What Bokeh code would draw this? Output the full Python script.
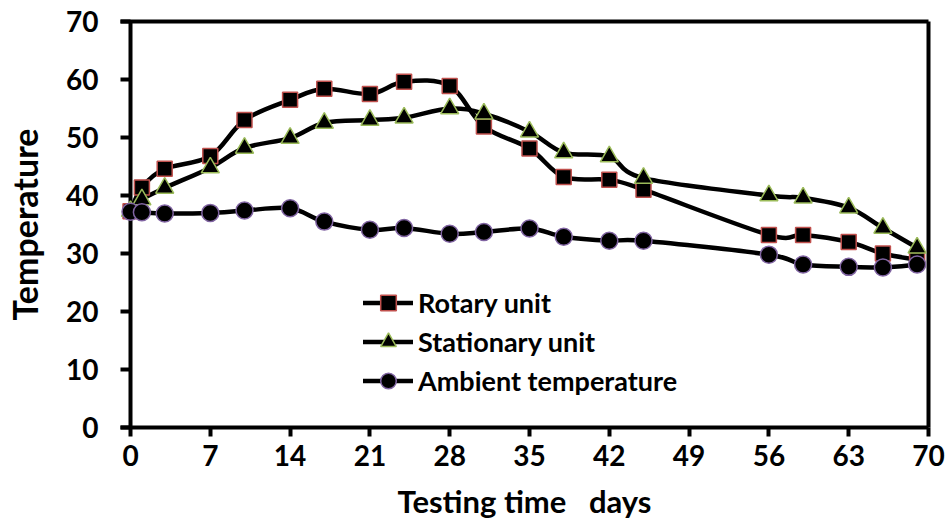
from bokeh.plotting import figure
from bokeh.models import (Range1d, FixedTicker, Legend, LegendItem, ColumnDataSource,
                          LinearAxis, Span)
from bokeh.embed import file_html
from bokeh.resources import INLINE

days = [0, 1, 3, 7, 10, 14, 17, 21, 24, 28, 31, 35, 38, 42, 45, 56, 59, 63, 66, 69]
rotary = [37.3, 41.4, 44.6, 46.8, 53.0, 56.5, 58.4, 57.5, 59.6, 58.9, 51.9, 48.1, 43.2, 42.7, 41.0, 33.2, 33.2, 32.0, 30.0, 28.9]
stationary = [37.3, 39.3, 41.3, 44.8, 48.2, 49.9, 52.5, 53.0, 53.4, 55.0, 54.1, 51.0, 47.4, 46.7, 43.0, 40.0, 39.6, 37.9, 34.4, 31.0]
ambient = [37.2, 37.1, 36.9, 37.0, 37.4, 37.8, 35.5, 34.1, 34.4, 33.4, 33.7, 34.3, 32.9, 32.2, 32.2, 29.8, 28.1, 27.7, 27.6, 28.1]
x_ticks = [0, 7, 14, 21, 28, 35, 42, 49, 56, 63, 70]
y_ticks = [0, 10, 20, 30, 40, 50, 60, 70]
names = ["Rotary unit", "Stationary unit", "Ambient temperature"]
x_title = "Testing time \u00a0 days"
y_title = "Temperature"

FONT = "Lato"
FRAME_W = 808          # pixels from left tick end to right border
TICK = 10              # y tick length (drawn inside the widened frame)
x_start = -TICK * 70.0 / (FRAME_W - TICK)

p = figure(width=946, height=527, output_backend="svg", toolbar_location=None,
           x_range=Range1d(x_start, 70), y_range=Range1d(0, 70),
           min_border_left=120, min_border_right=18, min_border_top=21, min_border_bottom=100)
p.grid.visible = False
p.outline_line_color = None
p.background_fill_color = "white"
p.border_fill_color = "white"

xa = p.xaxis[0]
ya = p.yaxis[0]
for ax in (xa, ya):
    ax.axis_line_width = 4
    ax.axis_line_color = "black"
    ax.major_tick_line_width = 4
    ax.minor_tick_line_color = None
    ax.major_label_text_font = FONT
    ax.major_label_text_font_style = "bold"
    ax.major_label_text_font_size = "28px"
    ax.major_label_text_color = "black"
    ax.axis_label_text_font = FONT
    ax.axis_label_text_font_style = "bold"
    ax.axis_label_text_color = "black"

xa.ticker = FixedTicker(ticks=x_ticks)
ya.ticker = FixedTicker(ticks=y_ticks)
xa.major_tick_in = 0
xa.major_tick_out = 9
xa.major_label_standoff = 8
ya.axis_line_color = None
ya.major_tick_in = TICK
ya.major_tick_out = 0
ya.major_label_standoff = 22

xa.axis_label = x_title
xa.axis_label_text_font_size = "31px"
xa.axis_label_standoff = 13
ya.axis_label = y_title
ya.axis_label_text_font_size = "34px"
ya.axis_label_standoff = 18

# the value axis line at day 0 and the frame's top and right borders
p.add_layout(Span(location=0, dimension="height", line_color="black", line_width=4))
top = LinearAxis(ticker=FixedTicker(ticks=[]), axis_line_width=4,
                 axis_line_color="black", major_label_text_font_size="0px",
                 major_tick_line_color=None, minor_tick_line_color=None)
right = LinearAxis(ticker=FixedTicker(ticks=[]), axis_line_width=4,
                   axis_line_color="black", major_label_text_font_size="0px",
                   major_tick_line_color=None, minor_tick_line_color=None)
p.add_layout(top, "above")
p.add_layout(right, "right")


def smooth_source(xs, ys):
    n = len(xs)
    d = dict(x0=[], y0=[], x1=[], y1=[], cx0=[], cy0=[], cx1=[], cy1=[])
    for i in range(n - 1):
        im = max(i - 1, 0)
        ip2 = min(i + 2, n - 1)
        d["x0"].append(xs[i]); d["y0"].append(ys[i])
        d["x1"].append(xs[i + 1]); d["y1"].append(ys[i + 1])
        d["cx0"].append(xs[i] + (xs[i + 1] - xs[im]) / 6.0)
        d["cy0"].append(ys[i] + (ys[i + 1] - ys[im]) / 6.0)
        d["cx1"].append(xs[i + 1] - (xs[ip2] - xs[i]) / 6.0)
        d["cy1"].append(ys[i + 1] - (ys[ip2] - ys[i]) / 6.0)
    return ColumnDataSource(d)


series = [rotary, stationary, ambient]
markers = ["square", "triangle", "circle"]
outlines = ["#C0504D", "#9BBB59", "#8064A2"]
sizes = [15, 18, 17]

curves = []
for ys in series:
    src = smooth_source(days, ys)
    r = p.bezier(x0="x0", y0="y0", x1="x1", y1="y1", cx0="cx0", cy0="cy0", cx1="cx1", cy1="cy1",
                 source=src, line_color="black", line_width=4.5, line_cap="round")
    curves.append(r)

dots = []
for ys, m, oc, s in zip(series, markers, outlines, sizes):
    r = p.scatter(days, ys, marker=m, size=s, fill_color="black", line_color=oc,
                  line_width=1.5, level="overlay")
    dots.append(r)

items = [LegendItem(label=n, renderers=[c, d]) for n, c, d in zip(names, curves, dots)]
legend = Legend(items=items, location=(243, 27), orientation="vertical",
                background_fill_alpha=0, border_line_color=None,
                glyph_width=50, glyph_height=39, label_height=39, label_standoff=5,
                spacing=0, padding=0, margin=0,
                label_text_font=FONT, label_text_font_style="bold",
                label_text_font_size="27px", label_text_color="black")
p.add_layout(legend, "center")

open("out.html", "w").write(file_html(p, INLINE))
